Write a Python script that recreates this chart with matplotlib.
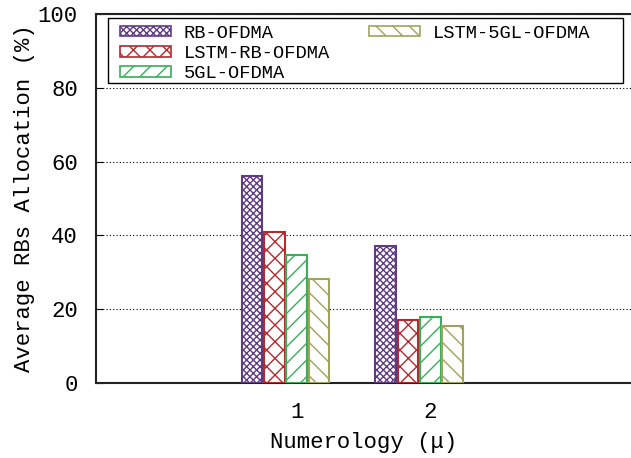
import matplotlib
matplotlib.use("Agg")
import matplotlib.pyplot as plt
import numpy as np
from matplotlib.patches import Patch, Rectangle

numerology = [1, 2]
series = ["RB-OFDMA", "LSTM-RB-OFDMA", "5GL-OFDMA", "LSTM-5GL-OFDMA"]
rb_ofdma = [56.0, 37.2]
lstm_rb_ofdma = [41.0, 17.0]
gl5_ofdma = [34.8, 18.0]
lstm_5gl_ofdma = [28.3, 15.5]
values = [rb_ofdma, lstm_rb_ofdma, gl5_ofdma, lstm_5gl_ofdma]

colors = ["#5f3b80", "#b22a2e", "#3aad5a", "#9fa45c"]
hatches = ["xxxxx", "xx", "//", "\\\\"]

plt.rcParams['font.family'] = ['Liberation Mono', 'DejaVu Sans Mono', 'DejaVu Sans']
plt.rcParams['hatch.linewidth'] = 1.0

W, H = 631, 458
fig = plt.figure(figsize=(W/100, H/100), dpi=100)
ax = fig.add_axes([96/W, 1-383/H, 1-96/W, (383-14)/H])

x = np.array(numerology, dtype=float)
width = 0.155
handles = []
for j, (name, vals) in enumerate(zip(series, values)):
    pos = x + (j - 2) / 6.0
    ax.bar(pos, vals, width=width, facecolor="white", edgecolor=colors[j],
           hatch=hatches[j], linewidth=1.5, zorder=3)
    handles.append(Patch(facecolor="white", edgecolor=colors[j], hatch=hatches[j],
                         linewidth=1.2, label=name))

ax.set_xlim(-0.5, 3.5)
ax.set_ylim(0, 100)
ax.set_xticks(numerology)
ax.set_xticklabels([str(n) for n in numerology])
ax.set_yticks([0, 20, 40, 60, 80, 100])
ax.yaxis.grid(True, linestyle=(0, (1, 2)), color="black", linewidth=0.8)
ax.set_axisbelow(True)
ax.tick_params(axis='both', labelsize=16, direction='in')
ax.tick_params(axis='y', length=5, pad=13)
ax.tick_params(axis='x', length=0, pad=14)
for s in ["left", "bottom", "top"]:
    ax.spines[s].set_linewidth(1.5)
    ax.spines[s].set_color("#222222")
ax.spines["right"].set_visible(False)

ax.set_ylabel("Average RBs Allocation (%)", fontsize=16, labelpad=2)
ax.set_xlabel("Numerology (\u03bc)", fontsize=16, labelpad=6)

blank = Patch(facecolor="none", edgecolor="none", label="")
leg_handles = handles[:3] + [handles[3], blank, blank]
leg_labels = series[:3] + [series[3], "", ""]
leg = ax.legend(leg_handles, leg_labels, ncol=2, loc="upper left",
                bbox_to_anchor=(120/W, 1-24.5/H), bbox_transform=fig.transFigure,
                fontsize=13.5, frameon=False,
                handlelength=2.7, handleheight=0.5, labelspacing=0.18,
                handletextpad=0.7, columnspacing=2.08, borderpad=0.0,
                borderaxespad=0.0)

frame = Rectangle((108/W, 1-83/H), (623-108)/W, (83-18)/H, transform=fig.transFigure,
                  facecolor="none", edgecolor="black", linewidth=1.0, zorder=5)
fig.patches.append(frame)

fig.savefig("out.png", dpi=100)
